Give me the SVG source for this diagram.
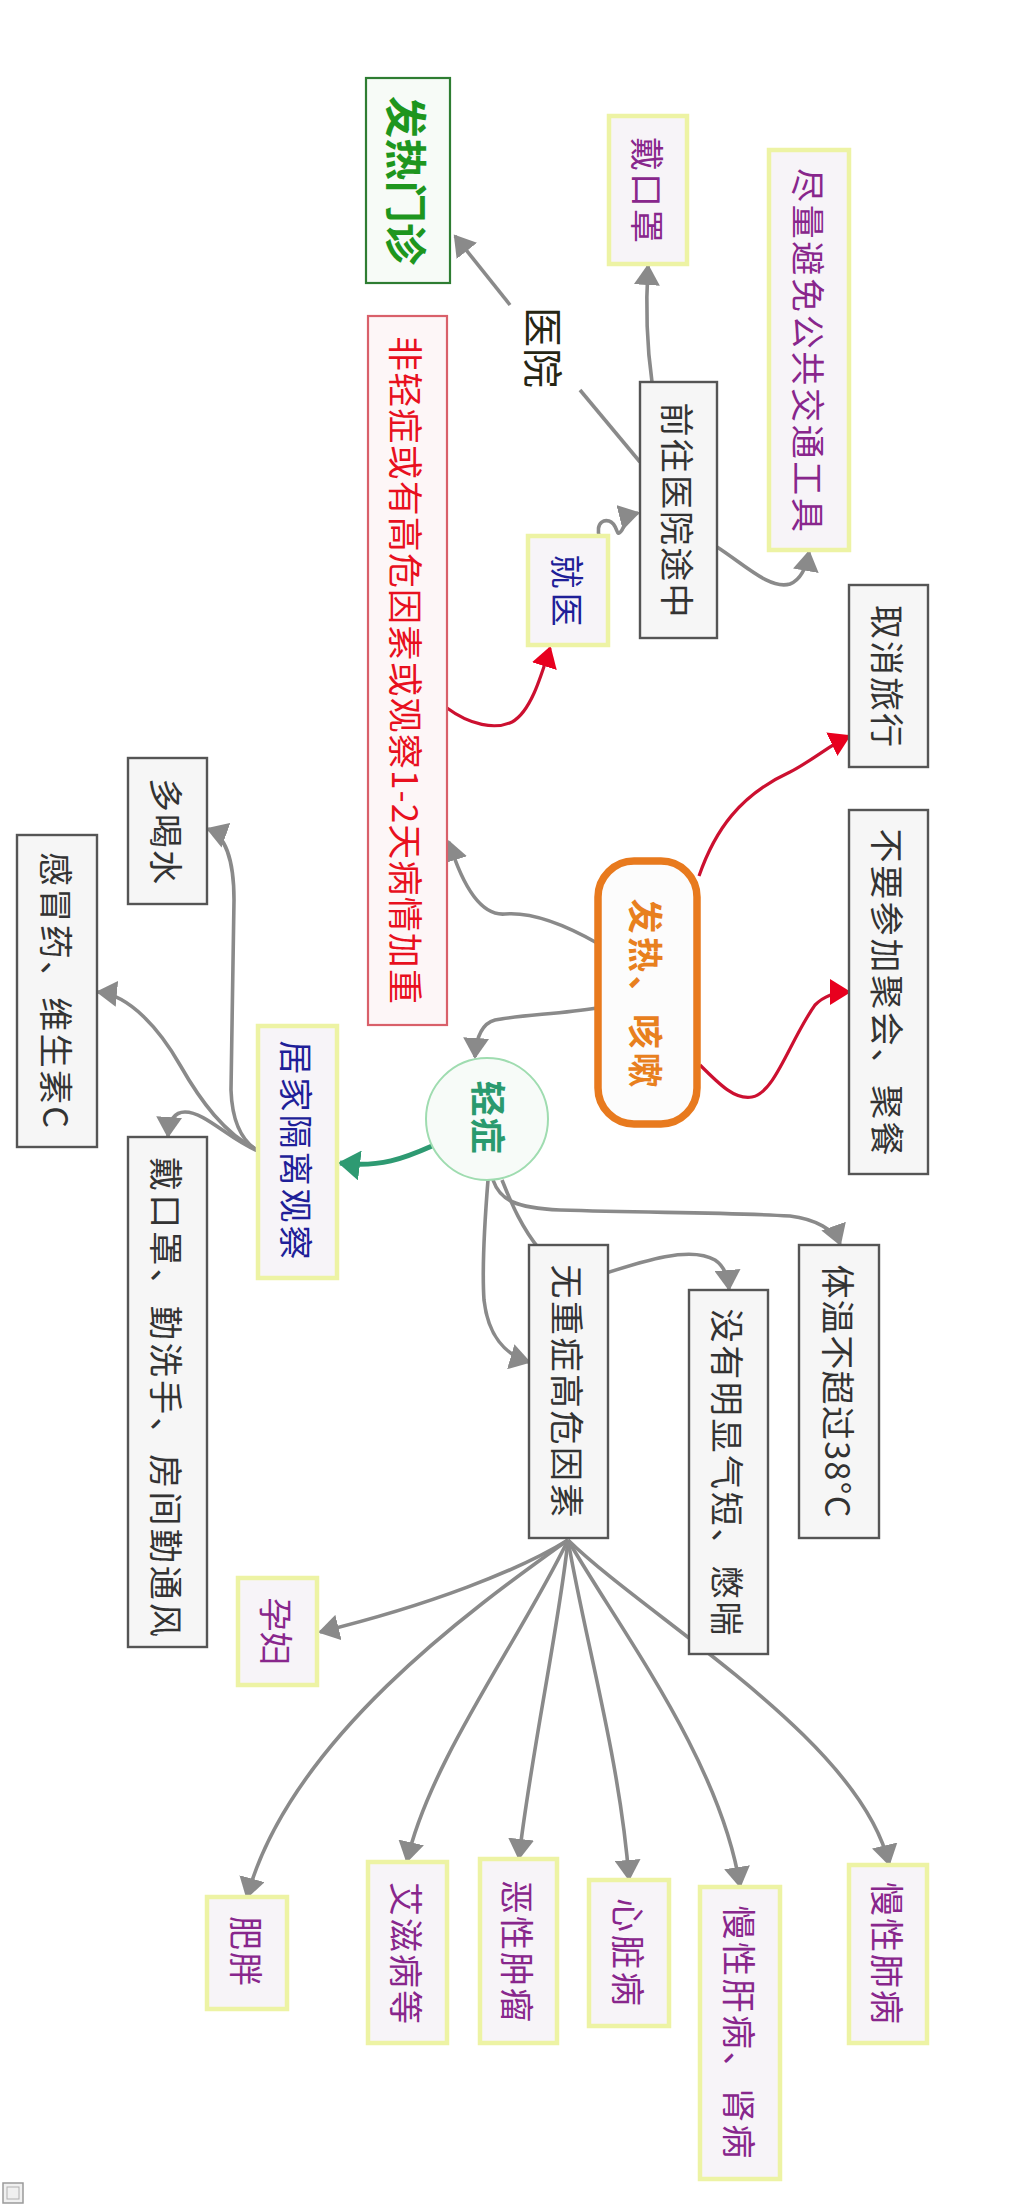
<svg xmlns="http://www.w3.org/2000/svg" width="1024" height="2207" viewBox="0 0 1024 2207">
<style>
.bg{fill:#ffffff}
.gbox{fill:#f6f6f6;stroke:#555555;stroke-width:2.4}
.ybox{fill:#f7f4f8;stroke:#edf3a4;stroke-width:4.5}
.t{font-family:"Noto Sans CJK SC","Noto Sans",sans-serif;font-size:34px;text-anchor:middle;dominant-baseline:central}
.tg{fill:#333333}
.tp{fill:#88268c}
.tb{fill:#1f1f98}
.c{fill:none;stroke:#8a8a8a;stroke-width:3.6;marker-end:url(#ag)}
.cn{fill:none;stroke:#8a8a8a;stroke-width:3.6}
.cr{fill:none;stroke:#cc1030;stroke-width:3.2;marker-end:url(#ar)}
.cgr{fill:none;stroke:#2e9a72;stroke-width:5;marker-end:url(#agr)}
</style>
<defs>
<marker id="ag" markerUnits="userSpaceOnUse" markerWidth="22" markerHeight="26" refX="19" refY="13" orient="auto"><path d="M0,0 L21,13 L0,26 z" fill="#8a8a8a"/></marker>
<marker id="ar" markerUnits="userSpaceOnUse" markerWidth="22" markerHeight="26" refX="19" refY="13" orient="auto"><path d="M0,0 L21,13 L0,26 z" fill="#e8001e"/></marker>
<marker id="agr" markerUnits="userSpaceOnUse" markerWidth="24" markerHeight="30" refX="20" refY="15" orient="auto"><path d="M0,0 L22,15 L0,30 z" fill="#2e9a72"/></marker>
</defs>
<rect class="bg" x="0" y="0" width="1024" height="2207"/>

<g id="connectors">
<path class="cn" d="M640,462 L580,390"/>
<path class="c" d="M510,305 L455,236"/>
<path class="c" d="M652,382 C646,340 646,300 648,266"/>
<path class="c" d="M717,547 C745,565 770,590 790,584 C800,580 806,570 809,552"/>
<path class="c" d="M606,545 C594,535 597,518 609,521 C619,524 615,540 622,530 C626,522 630,515 638,513"/>
<path class="c" d="M597,943 C560,922 530,912 505,914 C482,916 464,890 449,842"/>
<path class="c" d="M597,1008 C560,1014 520,1015 495,1020 C480,1024 476,1040 475,1057"/>
<path class="cr" d="M699,876 C715,830 740,795 790,772 C810,762 830,745 849,736"/>
<path class="cr" d="M700,1065 C720,1085 735,1100 752,1097 C775,1093 790,1040 815,1005 C825,995 838,992 849,992"/>
<path class="cr" d="M447,708 C470,725 495,730 512,722 C530,712 540,680 550,648"/>
<path class="cgr" d="M432,1146 C405,1158 380,1168 340,1163"/>
<path class="c" d="M258,1151 C240,1140 232,1120 231,1090 L234,900 C234,860 225,835 208,829"/>
<path class="c" d="M258,1150 C225,1135 200,1100 180,1065 C160,1030 130,995 98,992"/>
<path class="c" d="M258,1151 C230,1140 205,1112 185,1112 C175,1112 169,1120 168,1136"/>
<path class="c" d="M493,1180 C500,1200 515,1208 560,1210 C650,1213 720,1212 790,1216 C815,1219 835,1230 840,1244"/>
<path class="c" d="M488,1180 C484,1230 482,1270 484,1300 C488,1335 505,1355 529,1362"/>
<path class="c" d="M502,1180 C512,1205 522,1228 540,1250 L600,1275 C640,1262 690,1245 715,1260 C724,1266 728,1276 729,1289"/>
<path class="c" d="M568,1540 C520,1570 430,1605 320,1632"/>
<path class="c" d="M568,1540 C470,1610 290,1740 247,1897"/>
<path class="c" d="M568,1540 C520,1640 430,1760 407,1861"/>
<path class="c" d="M568,1540 C560,1620 530,1760 519,1858"/>
<path class="c" d="M568,1540 C585,1640 620,1760 629,1879"/>
<path class="c" d="M568,1540 C620,1630 720,1760 740,1886"/>
<path class="c" d="M568,1540 C650,1620 860,1740 889,1864"/>
</g>

<g id="label-hospital">
<text class="t" x="544.5" y="347.5" transform="rotate(90 544.5 347.5)" style="font-size:40px;fill:#262614" textLength="81" lengthAdjust="spacing">医院</text>
</g>

<g id="node-fever-clinic">
<rect x="366" y="78" width="84" height="205" fill="#f7fbf7" stroke="#2e7d32" stroke-width="2.2"/>
<text class="t" x="408" y="180.5" transform="rotate(90 408 180.5)" style="font-size:42px;font-weight:bold;fill:#1e961e" textLength="169" lengthAdjust="spacing">发热门诊</text>
</g>

<g id="node-severe">
<rect x="368" y="316" width="79" height="709" fill="#fdf6f7" stroke="#d9606a" stroke-width="2.2"/>
<text class="t" x="407.5" y="670" transform="rotate(90 407.5 670)" style="font-size:35px;fill:#e8101e" textLength="668" lengthAdjust="spacing">非轻症或有高危因素或观察1-2天病情加重</text>
</g>

<g id="node-mask1">
<rect class="ybox" x="609" y="116" width="78" height="148"/>
<text class="t tp" x="648" y="190" transform="rotate(90 648 190)" textLength="106" lengthAdjust="spacing">戴口罩</text>
</g>

<g id="node-avoid-transit">
<rect class="ybox" x="769" y="150" width="80" height="400"/>
<text class="t tp" x="809" y="350" transform="rotate(90 809 350)" textLength="364" lengthAdjust="spacing">尽量避免公共交通工具</text>
</g>

<g id="node-on-way">
<rect class="gbox" x="640" y="382" width="77" height="256"/>
<text class="t tg" x="678.5" y="510" transform="rotate(90 678.5 510)" textLength="215" lengthAdjust="spacing">前往医院途中</text>
</g>

<g id="node-seek">
<rect class="ybox" x="528" y="536" width="80" height="109"/>
<text class="t tb" x="568" y="590.5" transform="rotate(90 568 590.5)" textLength="72" lengthAdjust="spacing">就医</text>
</g>

<g id="node-cancel-travel">
<rect class="gbox" x="849" y="585" width="79" height="182"/>
<text class="t tg" x="888.5" y="676" transform="rotate(90 888.5 676)" textLength="142" lengthAdjust="spacing">取消旅行</text>
</g>

<g id="node-no-party">
<rect class="gbox" x="849" y="810" width="79" height="364"/>
<text class="t tg" x="888.5" y="992" transform="rotate(90 888.5 992)" textLength="327" lengthAdjust="spacing">不要参加聚会、聚餐</text>
</g>

<g id="node-fever-cough">
<rect x="598" y="861" width="99" height="263" rx="36" ry="36" fill="#fcfcfc" stroke="#e87a1e" stroke-width="7.5"/>
<text class="t" x="647" y="993" transform="rotate(90 647 993)" style="font-size:35px;font-weight:bold;fill:#e8801e" textLength="189" lengthAdjust="spacing">发热、咳嗽</text>
</g>

<g id="node-mild">
<circle cx="487" cy="1119" r="61" fill="#f7fbf8" stroke="#9fdcb0" stroke-width="2"/>
<text class="t" x="490" y="1117" transform="rotate(90 490 1117)" style="font-size:36px;font-weight:bold;fill:#2a9a6e" textLength="73" lengthAdjust="spacing">轻症</text>
</g>

<g id="node-drink">
<rect class="gbox" x="128" y="758" width="79" height="146"/>
<text class="t tg" x="167.5" y="831" transform="rotate(90 167.5 831)" textLength="106" lengthAdjust="spacing">多喝水</text>
</g>

<g id="node-medicine">
<rect class="gbox" x="17" y="835" width="80" height="312"/>
<text class="t tg" x="57" y="990" transform="rotate(90 57 990)" textLength="276" lengthAdjust="spacing">感冒药、维生素C</text>
</g>

<g id="node-home">
<rect class="ybox" x="258" y="1026" width="79" height="252"/>
<text class="t tb" x="297.5" y="1150" transform="rotate(90 297.5 1150)" textLength="219" lengthAdjust="spacing">居家隔离观察</text>
</g>

<g id="node-hygiene">
<rect class="gbox" x="128" y="1137" width="79" height="510"/>
<text class="t tg" x="167.5" y="1397" transform="rotate(90 167.5 1397)" textLength="480" lengthAdjust="spacing">戴口罩、勤洗手、房间勤通风</text>
</g>

<g id="node-temp">
<rect class="gbox" x="799" y="1245" width="80" height="293"/>
<text class="t tg" x="839" y="1391" transform="rotate(90 839 1391)" textLength="253" lengthAdjust="spacing">体温不超过38°C</text>
</g>

<g id="node-no-risk">
<rect class="gbox" x="529" y="1245" width="79" height="293"/>
<text class="t tg" x="568.5" y="1391" transform="rotate(90 568.5 1391)" textLength="253" lengthAdjust="spacing">无重症高危因素</text>
</g>

<g id="node-no-breath">
<rect class="gbox" x="689" y="1290" width="79" height="364"/>
<text class="t tg" x="728.5" y="1472" transform="rotate(90 728.5 1472)" textLength="327" lengthAdjust="spacing">没有明显气短、憋喘</text>
</g>

<g id="node-pregnant">
<rect class="ybox" x="238" y="1578" width="79" height="107"/>
<text class="t tp" x="277.5" y="1631.5" transform="rotate(90 277.5 1631.5)" textLength="68" lengthAdjust="spacing">孕妇</text>
</g>

<g id="node-obesity">
<rect class="ybox" x="207" y="1897" width="80" height="112"/>
<text class="t tp" x="247" y="1951" transform="rotate(90 247 1951)" textLength="70" lengthAdjust="spacing">肥胖</text>
</g>

<g id="node-aids">
<rect class="ybox" x="368" y="1862" width="79" height="181"/>
<text class="t tp" x="407.5" y="1953" transform="rotate(90 407.5 1953)" textLength="142" lengthAdjust="spacing">艾滋病等</text>
</g>

<g id="node-tumor">
<rect class="ybox" x="480" y="1859" width="77" height="184"/>
<text class="t tp" x="518.5" y="1951" transform="rotate(90 518.5 1951)" textLength="142" lengthAdjust="spacing">恶性肿瘤</text>
</g>

<g id="node-heart">
<rect class="ybox" x="589" y="1880" width="80" height="146"/>
<text class="t tp" x="629" y="1952" transform="rotate(90 629 1952)" textLength="108" lengthAdjust="spacing">心脏病</text>
</g>

<g id="node-liver-kidney">
<rect class="ybox" x="700" y="1887" width="80" height="292"/>
<text class="t tp" x="740" y="2032" transform="rotate(90 740 2032)" textLength="253" lengthAdjust="spacing">慢性肝病、肾病</text>
</g>

<g id="node-lung">
<rect class="ybox" x="849" y="1865" width="78" height="178"/>
<text class="t tp" x="888" y="1953" transform="rotate(90 888 1953)" textLength="142" lengthAdjust="spacing">慢性肺病</text>
</g>

<g id="icon">
<rect x="3" y="2183" width="20" height="20" fill="#f0f0f0" stroke="#9a9a9a" stroke-width="1.5"/>
<rect x="7" y="2187" width="12" height="12" fill="none" stroke="#b0b0b0" stroke-width="1"/>
</g>
</svg>
